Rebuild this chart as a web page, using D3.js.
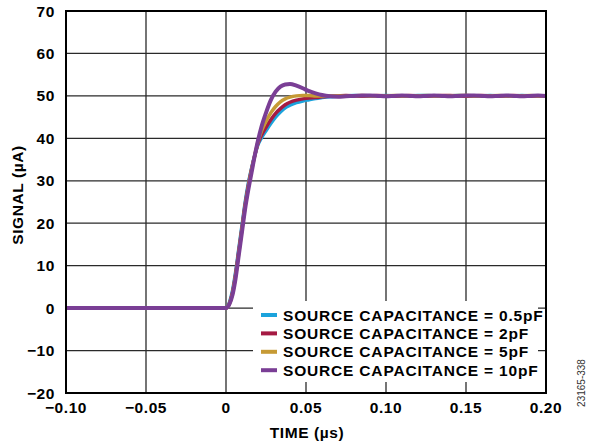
<!DOCTYPE html>
<html><head><meta charset="utf-8">
<script src="https://cdn.jsdelivr.net/npm/d3@7"></script>
<style>
html,body{margin:0;padding:0;background:#fff;}
svg{display:block;}
text{font-family:"Liberation Sans",Arial,Helvetica,sans-serif;}
</style></head>
<body>
<script>
// ---- data ----
const times = [-0.100, -0.050, -0.010, 0.000,
  0.002, 0.004, 0.006, 0.008, 0.010, 0.012, 0.014, 0.016, 0.018, 0.020, 0.022,
  0.025, 0.028, 0.031, 0.034, 0.037, 0.040,
  0.044, 0.048, 0.052, 0.056, 0.060,
  0.065, 0.070, 0.075, 0.080, 0.085, 0.090, 0.095, 0.100, 0.105, 0.110, 0.115, 0.120,
  0.125, 0.130, 0.135, 0.140, 0.145, 0.150, 0.155, 0.160, 0.165, 0.170, 0.175, 0.180,
  0.185, 0.190, 0.195, 0.200];

const cap05pF = [0, 0, 0, 0,
  1.2, 4, 8.5, 14, 19.5, 25, 29.5, 33, 36, 38.5, 40,
  41.8, 43.5, 45, 46.2, 47.2, 47.8,
  48.4, 48.8, 49.1, 49.4, 49.6,
  49.8, 49.9, 50.0, 50.1, 50.0, 49.9, 50.0, 50.1, 50.0, 49.9, 50.0, 50.1,
  50.1, 50.0, 49.9, 50.0, 50.1, 50.0, 49.9, 50.0, 50.1, 50.0, 49.9, 50.0,
  50.1, 50.0, 49.9, 50.0];

const cap2pF = [0, 0, 0, 0,
  1.0, 3.6, 8, 13.5, 19, 24.5, 29, 32.8, 36, 38.8, 40.6,
  42.6, 44.4, 45.9, 47, 47.9, 48.5,
  49, 49.3, 49.5, 49.6, 49.8,
  49.9, 50.0, 50.1, 50.0, 49.9, 50.0, 50.1, 50.0, 49.9, 50.0, 50.1, 50.0,
  49.9, 50.0, 50.1, 50.1, 50.0, 49.9, 50.0, 50.1, 50.0, 49.9, 50.0, 50.1,
  50.0, 49.9, 50.0, 50.0];

const cap5pF = [0, 0, 0, 0,
  0.9, 3.3, 7.6, 13, 18.6, 24, 28.6, 32.5, 36, 39.2, 41.5,
  44, 46, 47.5, 48.6, 49.3, 49.7,
  50.0, 50.1, 50.1, 50.0, 50.0,
  50.0, 50.0, 49.9, 50.0, 50.1, 50.0, 49.9, 50.0, 50.1, 50.0, 49.9, 50.0,
  50.1, 50.0, 49.9, 50.0, 50.1, 50.1, 50.0, 49.9, 50.0, 50.1, 50.0, 49.9,
  50.0, 50.1, 50.0, 50.0];

const cap10pF = [0, 0, 0, 0,
  0.8, 3, 7, 12.5, 18, 23.5, 28, 32, 36, 39.5, 42.5,
  46, 49, 51, 52.2, 52.7, 52.8,
  52.4, 51.8, 51.1, 50.6, 50.2,
  49.9, 49.8, 49.9, 50.0, 50.1, 50.1, 50.0, 49.9, 50.0, 50.1, 50.0, 49.9,
  50.0, 50.1, 50.0, 49.9, 50.0, 50.1, 50.1, 50.0, 49.9, 50.0, 50.1, 50.0,
  49.9, 50.0, 50.1, 50.0];

const seriesNames = ["SOURCE CAPACITANCE = 0.5pF", "SOURCE CAPACITANCE = 2pF",
  "SOURCE CAPACITANCE = 5pF", "SOURCE CAPACITANCE = 10pF"];
const seriesValues = [cap05pF, cap2pF, cap5pF, cap10pF];
const seriesColors = ["#1ba3dc", "#a51a43", "#c69a35", "#7a3e95"];

const xTicks = [-0.10, -0.05, 0, 0.05, 0.10, 0.15, 0.20];
const xTickLabels = ["\u22120.10", "\u22120.05", "0", "0.05", "0.10", "0.15", "0.20"];
const yTicks = [-20, -10, 0, 10, 20, 30, 40, 50, 60, 70];
const yTickLabels = ["\u221220", "\u221210", "0", "10", "20", "30", "40", "50", "60", "70"];

// ---- layout ----
const W = 590, H = 446;
const L = 66, R = 546, T = 11, B = 393;
const FS = 15.5, LS = "0.6px";

const svg = d3.select("body").append("svg").attr("width", W).attr("height", H);
const x = d3.scaleLinear().domain([-0.10, 0.20]).range([L, R]);
const y = d3.scaleLinear().domain([-20, 70]).range([B, T]);

// grid
const grid = svg.append("g").attr("stroke", "#2a2a2a").attr("stroke-width", 1.3);
grid.selectAll("line.h").data(yTicks.slice(1, -1)).join("line")
  .attr("x1", L).attr("x2", R).attr("y1", d => y(d)).attr("y2", d => y(d));
grid.selectAll("line.v").data(xTicks.slice(1, -1)).join("line")
  .attr("y1", T).attr("y2", B).attr("x1", d => x(d)).attr("x2", d => x(d));

// series
const line = d3.line().x(d => x(d[0])).y(d => y(d[1])).curve(d3.curveMonotoneX);
seriesValues.forEach((vals, i) => {
  svg.append("path")
    .datum(times.map((t, k) => [t, vals[k]]))
    .attr("fill", "none")
    .attr("stroke", seriesColors[i])
    .attr("stroke-width", i === 3 ? 4 : 3.5)
    .attr("stroke-linejoin", "round")
    .attr("d", line);
});

// legend
svg.append("rect").attr("x", 253).attr("y", 301).attr("width", 285).attr("height", 81).attr("fill", "#fff");
const leg = svg.append("g");
seriesNames.forEach((name, i) => {
  const yy = 315 + i * 18.4;
  leg.append("line").attr("x1", 261).attr("x2", 277).attr("y1", yy).attr("y2", yy)
    .attr("stroke", seriesColors[i]).attr("stroke-width", 4);
  leg.append("text").attr("x", 283).attr("y", yy).attr("dy", "0.36em")
    .attr("font-size", FS).attr("font-weight", "bold").attr("letter-spacing", "0.82px")
    .attr("fill", "#000").text(name);
});

// frame
svg.append("rect").attr("x", L).attr("y", T).attr("width", R - L).attr("height", B - T)
  .attr("fill", "none").attr("stroke", "#000").attr("stroke-width", 2);

// tick labels
svg.append("g").selectAll("text").data(yTicks).join("text")
  .attr("x", 55).attr("y", d => y(d)).attr("dy", "0.36em").attr("text-anchor", "end")
  .attr("font-size", FS).attr("font-weight", "bold").attr("letter-spacing", LS)
  .text((d, i) => yTickLabels[i]);
svg.append("g").selectAll("text").data(xTicks).join("text")
  .attr("x", d => x(d)).attr("y", 412.5).attr("text-anchor", "middle")
  .attr("font-size", FS).attr("font-weight", "bold").attr("letter-spacing", LS)
  .text((d, i) => xTickLabels[i]);

// axis titles
svg.append("text").attr("x", 307).attr("y", 437.5).attr("text-anchor", "middle")
  .attr("font-size", FS).attr("font-weight", "bold").attr("letter-spacing", LS).text("TIME (\u00b5s)");
svg.append("text").attr("transform", "translate(22.5,195) rotate(-90)").attr("text-anchor", "middle")
  .attr("font-size", FS).attr("font-weight", "bold").attr("letter-spacing", LS).text("SIGNAL (\u00b5A)");

// figure id
svg.append("text").attr("transform", "translate(585,383) rotate(-90)").attr("text-anchor", "middle")
  .attr("font-size", 10).attr("fill", "#333").text("23165-338");
</script>
</body></html>
